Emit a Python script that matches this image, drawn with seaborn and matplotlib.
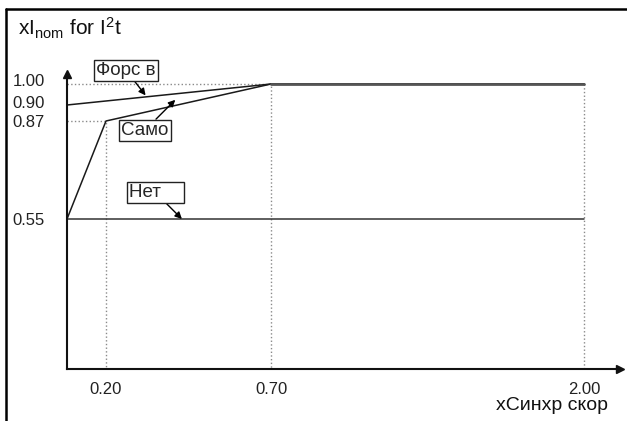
import numpy as np
import pandas as pd
import seaborn as sns
import matplotlib.pyplot as plt
from matplotlib.lines import Line2D

# schematic axis values
x_ticks = [0.20, 0.70, 2.00]
y_ticks = [0.55, 0.87, 0.90, 1.00]

# curves
forced_x = [0.0, 0.70, 2.00]
forced_y = [0.90, 1.00, 1.00]
self_x = [0.0, 0.20, 0.70, 2.00]
self_y = [0.55, 0.87, 1.00, 1.00]
none_x = [0.0, 2.00]
none_y = [0.55, 0.55]

labels = ['Форс в', 'Само', 'Нет']

df = pd.concat([
    pd.DataFrame({'x': forced_x, 'y': forced_y, 'mode': labels[0]}),
    pd.DataFrame({'x': self_x, 'y': self_y, 'mode': labels[1]}),
    pd.DataFrame({'x': none_x, 'y': none_y, 'mode': labels[2]}),
], ignore_index=True)

# the drawing is schematic: piecewise axes (value -> pixel distance from origin)
xv = [-10, 0.0, 0.20, 0.70, 2.00, 10]
xp = [-1950, 0, 39, 204, 517, 517 + 8 * 240.8]
yv = [-10, 0.0, 0.55, 0.87, 0.90, 1.00, 10]
yp = [-2727, 0, 150, 248, 264, 285, 285 + 9 * 210]


def fx(v):
    return np.interp(v, xv, xp)


def fx_inv(p):
    return np.interp(p, xp, xv)


def fy(v):
    return np.interp(v, yv, yp)


def fy_inv(p):
    return np.interp(p, yp, yv)


sns.set_theme(style='white')
plt.rcParams['font.family'] = ['Liberation Sans', 'DejaVu Sans']
plt.rcParams['mathtext.fontset'] = 'custom'
plt.rcParams['mathtext.rm'] = 'Liberation Sans'
plt.rcParams['mathtext.it'] = 'Liberation Sans'

fig = plt.figure(figsize=(6.27, 4.21), dpi=100)
ax = fig.add_axes([67 / 627, 52 / 421, 553 / 627, 295 / 421])

# dotted guide lines
guide = dict(color='#8a8a8a', lw=1, ls=':')
ax.plot([0, x_ticks[0], x_ticks[0]], [self_y[1], self_y[1], 0], **guide)
ax.plot([0, x_ticks[1], x_ticks[1]], [y_ticks[3], y_ticks[3], 0], **guide)
ax.plot([x_ticks[2], x_ticks[2]], [y_ticks[3], 0], **guide)

sns.lineplot(data=df, x='x', y='y', hue='mode', sort=False, estimator=None,
             palette=['#1a1a1a', '#1a1a1a', '#333333'], legend=False, ax=ax, lw=1.1)
ax.plot(forced_x[1:], forced_y[1:], color='#555555', lw=2)

ax.set_xscale('function', functions=(fx, fx_inv))
ax.set_yscale('function', functions=(fy, fy_inv))
ax.set_xlim(0, fx_inv(553))
ax.set_ylim(0, fy_inv(295))

ax.set_xticks(x_ticks)
ax.set_xticklabels([f'{v:.2f}' for v in x_ticks])
ax.set_yticks(y_ticks)
ax.set_yticklabels([f'{v:.2f}' for v in y_ticks])
ax.tick_params(axis='both', length=0, labelsize=12, colors='#222222')
ax.tick_params(axis='y', pad=16)
ax.tick_params(axis='x', pad=9)
ax.set_xlabel('')
ax.set_ylabel('')
# the two top labels sit a little higher in the original
for lbl, dy in zip(ax.get_yticklabels()[2:], [3, 4]):
    lbl.set_y(lbl.get_position()[1])
    lbl.set_transform(lbl.get_transform() + plt.matplotlib.transforms.ScaledTranslation(0, dy / 100, fig.dpi_scale_trans))

for s in ['top', 'right']:
    ax.spines[s].set_visible(False)
for s in ['left', 'bottom']:
    ax.spines[s].set_color('#111111')
    ax.spines[s].set_linewidth(1.5)
ax.plot(1, 0, '>', color='#111111', ms=6, transform=ax.get_yaxis_transform(), clip_on=False)
ax.plot(0, 1, '^', color='#111111', ms=6, transform=ax.get_xaxis_transform(), clip_on=False)

# callouts
box = dict(boxstyle='square,pad=0.12', fc='white', ec='#222222', lw=1)
arrow = dict(arrowstyle='-|>', color='black', lw=1, mutation_scale=10, shrinkA=0, shrinkB=0)
tips = [(0.32, forced_x, forced_y, (-14, 18), 'Форс в'),
        (0.41, self_x, self_y, (-22, -22), 'Само'),
        (0.43, none_x, none_y, (-19, 19), 'Нет    ')]
for lab, (tx, lx, ly, off, shown) in zip(labels, tips):
    ax.annotate(shown, xy=(tx, np.interp(tx, lx, ly)), xytext=off, textcoords='offset points',
                ha='center', va='center', fontsize=13.5, bbox=box, arrowprops=arrow)

fig.text(18 / 627, 1 - 28 / 421, r'xI$_{\mathrm{nom}}$ for I$^{\mathrm{2}}$t',
         fontsize=15, ha='left', va='center', color='#111111')
fig.text(608 / 627, 1 - 405 / 421, 'xСинхр скор',
         fontsize=14, ha='right', va='center', color='#111111')

# page frame
fig.add_artist(Line2D([5.5 / 627, 5.5 / 627], [0, 1 - 9 / 421], color='black', lw=1.8))
fig.add_artist(Line2D([5.5 / 627, 1], [1 - 9 / 421, 1 - 9 / 421], color='black', lw=1.8))

fig.savefig('out.png', dpi=100)
